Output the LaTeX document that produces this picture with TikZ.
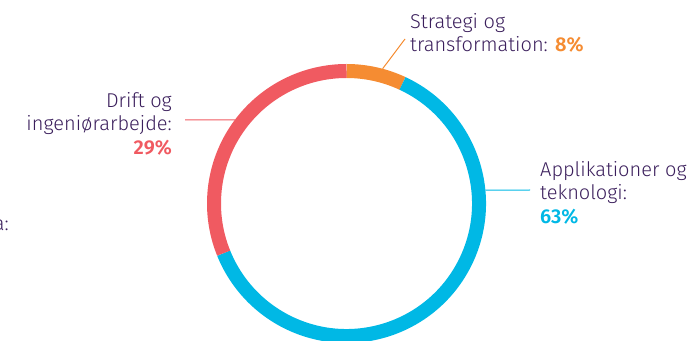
\documentclass[tikz,border=0pt]{standalone}
\usepackage{fontspec}
\setmainfont{Fira Sans Light}[BoldFont={Fira Sans SemiBold}]
\usetikzlibrary{positioning}
\definecolor{textpurple}{HTML}{3B1F5C}
\definecolor{ringred}{HTML}{F05A61}
\definecolor{ringorange}{HTML}{F58C32}
\definecolor{ringblue}{HTML}{00B8E5}

\begin{document}
\begin{tikzpicture}[x=1pt, y=1pt,
            labelnode/.style={text=textpurple, inner sep=0pt, font=\fontsize{20}{23.5}\selectfont},
            ringpart/.style={line width=14pt},
            leader/.style={line width=1pt},
        ]
        \useasboundingbox (0,0) rectangle (693,340);

        %Ring
        \coordinate (centre) at (346.5,136.5);
        \draw[ringpart, ringorange] (centre) ++(90:132.5) arc (90:65:132.5);
        \draw[ringpart, ringblue]   (centre) ++(65:132.5) arc (65:-158:132.5);
        \draw[ringpart, ringred]    (centre) ++(202:132.5) arc (202:90:132.5);

        %Nodes
        \node[labelnode, align=right, anchor=north east] (driftlabel)    at (172,248) {Drift og\\ingeniørarbejde:\\\textbf{\color{ringred}29\%}};
        \node[labelnode, align=left, anchor=north west]  (strategilabel) at (410,327) {Strategi og\\transformation: \textbf{\color{ringorange}8\%}};
        \node[labelnode, align=left, anchor=north west]  (applabel)      at (540,179) {Applikationer og\\teknologi:\\\textbf{\color{ringblue}63\%}};
        \node[labelnode, anchor=base east]               (cutlabel)      at (9,109)   {a:};

        %Lines
        \coordinate (drifttouch)    at ([shift={(143.2:139.5)}]centre);
        \coordinate (strategitouch) at ([shift={(75:139.5)}]centre);
        \coordinate (apptouch)      at ([shift={(5.5:139.5)}]centre);
        \coordinate (driftend)      at (185,220);
        \coordinate (strategiend)   at (405,301);
        \coordinate (append)        at (530,150);
        \draw[leader, ringred]    (driftend) -- (drifttouch);
        \draw[leader, ringorange] (strategiend) -- (strategitouch);
        \draw[leader, ringblue]   (append) -- (apptouch);
    \end{tikzpicture}
\end{document}
